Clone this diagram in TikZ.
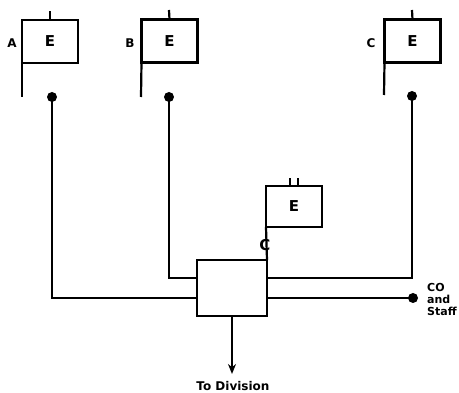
\documentclass[tikz,border=0pt]{standalone}
\usepackage{fontspec}
\setmainfont{DejaVu Sans}
\usetikzlibrary{arrows.meta}
\begin{document}
\begin{tikzpicture}[x=1pt,y=-1pt,
  ln/.style={line width=2.2pt},
  ebox/.style={draw,line width=2.2pt,rectangle,minimum width=56pt,minimum height=43pt,inner sep=0pt,outer sep=0pt,font=\fontsize{15}{15}\selectfont\bfseries},
  dot/.style={circle,fill=black,minimum size=10pt,inner sep=0pt},
  lab/.style={font=\fontsize{12}{12}\selectfont\bfseries,inner sep=0pt},
  small/.style={font=\fontsize{11}{12}\selectfont\bfseries,inner sep=0pt,align=left}]
\useasboundingbox (0,0) rectangle (459,393);
% top boxes
\node[ebox] (eA) at (50,41.5) {E};
\node[ebox] (eB) at (169.5,41) {E};
\node[ebox] (eC) at (412.5,41) {E};
\node[lab] (lA) at (12,43) {A};
\node[lab] (lB) at (130,43) {B};
\node[lab] (lC) at (371,43) {C};
\coordinate (tA) at (50,11);
\coordinate (tB) at (169,10);
\coordinate (tC) at (412,10);
\draw[ln] (eA.north) -- (tA);
\draw[ln] (eB.north) -- (tB);
\draw[ln] (eC.north) -- (tC);
\coordinate (bA) at (22,97);
\coordinate (bB) at (141,97);
\coordinate (bC) at (384,95);
\draw[ln] (eA.south west) -- (bA);
\draw[ln] (eB.south west) -- (bB);
\draw[ln] (eC.south west) -- (bC);
% dots
\node[dot] (dA) at (52,97) {};
\node[dot] (dB) at (169,97) {};
\node[dot] (dC) at (412,96) {};
% hub
\node[draw,line width=2.2pt,minimum width=70pt,minimum height=56pt,inner sep=0pt,outer sep=0pt] (hub) at (232,288) {};
% centre E box
\node[ebox,minimum height=41pt] (eD) at (294,206.5) {E};
\coordinate (s1) at (290,178);
\coordinate (s2) at (298,178);
\draw[ln] (eD.north -| s1) -- (s1);
\draw[ln] (eD.north -| s2) -- (s2);
\draw[ln] (eD.south west) -- (hub.north east);
\node[lab,font=\fontsize{15}{15}\selectfont\bfseries] (lD) at (265,245) {C};
% connectors
\draw[ln] (dA.center) |- ([yshift=-10pt]hub.west);
\draw[ln] (dB.center) |- ([yshift=10pt]hub.west);
\draw[ln] (dC.center) |- ([yshift=10pt]hub.east);
\node[dot] (dCO) at (413,298) {};
\draw[ln] ([yshift=-10pt]hub.east) -- (dCO.center);
\node[small,anchor=west] (co) at (427,299) {CO\\and\\Staff};
% arrow
\coordinate (ar) at (232,374);
\draw[ln,-{Stealth[length=10pt,width=8pt]}] (hub.south) -- (ar);
\node[small,font=\fontsize{12}{12}\selectfont\bfseries] (div) at (233,386) {To Division};
\end{tikzpicture}
\end{document}
